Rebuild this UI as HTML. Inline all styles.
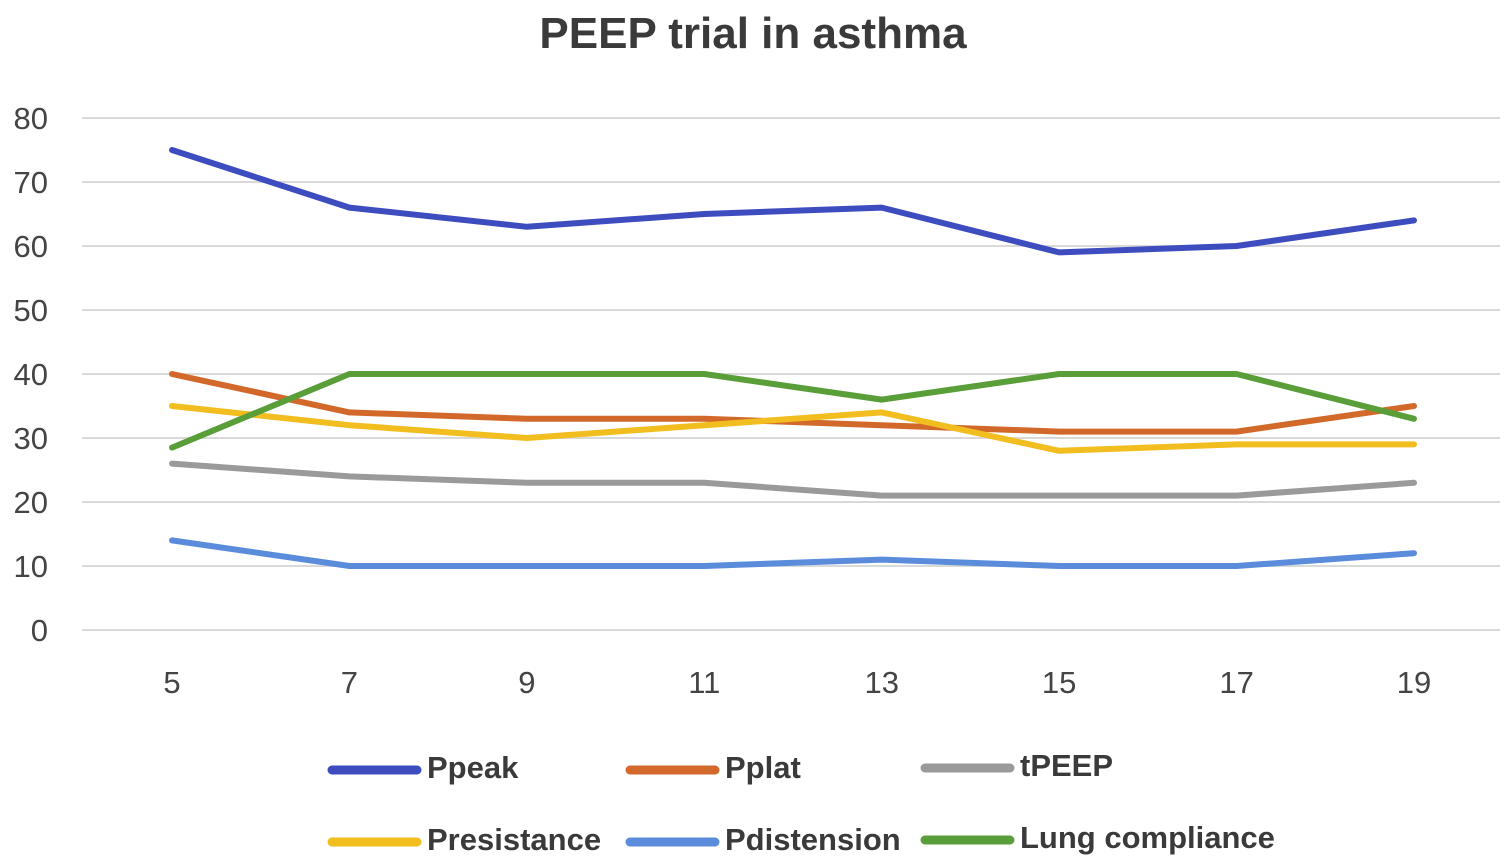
<!DOCTYPE html>
<html><head><meta charset="utf-8"><style>
body{margin:0;background:#fff;}
svg{display:block;font-family:"Liberation Sans",sans-serif;}
</style></head><body>
<svg id="chart" width="1508" height="865">
<text x="753" y="48" text-anchor="middle" font-size="44" font-weight="bold" fill="#3a3a3a">PEEP trial in asthma</text>
<g id="grid"></g><g id="series"></g><g id="legend"></g>
</svg>
<script>
const categories=[5,7,9,11,13,15,17,19];
const yTicks=[0,10,20,30,40,50,60,70,80];
const seriesNames=["Ppeak","Pplat","tPEEP","Presistance","Pdistension","Lung compliance"];
const ppeak=[75,66,63,65,66,59,60,64];
const pplat=[40,34,33,33,32,31,31,35];
const tpeep=[26,24,23,23,21,21,21,23];
const presistance=[35,32,30,32,34,28,29,29];
const pdistension=[14,10,10,10,11,10,10,12];
const compliance=[28.5,40,40,40,36,40,40,33];
const allSeries=[ppeak,pplat,tpeep,presistance,pdistension,compliance];
const colors=["#3d4dbf","#d2692b","#9a9a9a","#f2bd1e","#5b8cdb","#5a9e3a"];
const NS="http://www.w3.org/2000/svg";
const x=i=>172+i*(1414-172)/(categories.length-1);
const y=v=>630-v*(630-118)/80;
function mk(tag,attrs,parent){const e=document.createElementNS(NS,tag);for(const k in attrs)e.setAttribute(k,attrs[k]);parent.appendChild(e);return e;}
const grid=document.getElementById('grid');
yTicks.forEach(t=>{
 const l=mk('line',{x1:82,x2:1500,y1:y(t),y2:y(t),stroke:'#d9d9d9','stroke-width':2},grid);
 
 
 const tx=mk('text',{x:48,y:y(t)+11,'text-anchor':'end','font-size':31,fill:'#444'},grid);
 tx.textContent=t;
 
 
});
categories.forEach((c,i)=>{
 const tx=mk('text',{x:x(i),y:693,'text-anchor':'middle','font-size':31,fill:'#444'},grid);
 tx.textContent=c;
 
 
});
const sg=document.getElementById('series');
allSeries.forEach((d,s)=>{
 const p=mk('polyline',{points:d.map((v,i)=>x(i)+','+y(v)).join(' '),fill:'none',stroke:colors[s],'stroke-width':6,'stroke-linejoin':'round','stroke-linecap':'round'},sg);
 
 
});
const lg=document.getElementById('legend');
const legPos=[[332,768],[630,768],[925,766],[332,840],[630,840],[925,838]];
seriesNames.forEach((n,s)=>{
 const [lx,ly]=legPos[s];
 const g=mk('g',{},lg);
 
 
 mk('line',{x1:lx,x2:lx+85,y1:ly+2,y2:ly+2,stroke:colors[s],'stroke-width':9,'stroke-linecap':'round'},g);
 const t=mk('text',{x:lx+95,y:ly+10,'font-size':31,'font-weight':'bold',fill:'#3a3a3a'},g);
 t.textContent=n;
});
</script>
</body></html>
